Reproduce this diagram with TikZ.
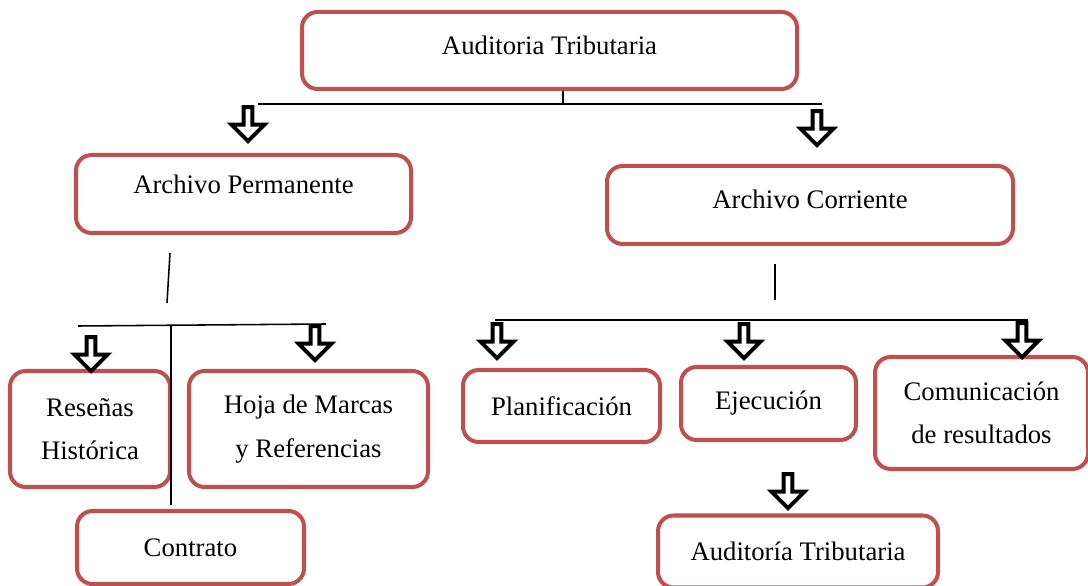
\documentclass[tikz,border=0pt]{standalone}
\usepackage{fontspec}
\setmainfont{Liberation Serif}
\usetikzlibrary{shapes.arrows, positioning}
\definecolor{rojo}{RGB}{192,80,77}
\newlength\pxu
\setlength\pxu{0.449pt}

\tikzset{
  caja/.style={draw=rojo, line width=1.8pt, rounded corners=7pt, fill=white,
    align=center, inner sep=0pt, font=\fontsize{12}{19.5}\selectfont},
  flecha/.style={single arrow, draw=black, line width=1.8pt, fill=white,
    shape border rotate=270, inner sep=1pt, minimum height=34\pxu,
    minimum width=33\pxu, single arrow head extend=12\pxu},
  linea/.style={line width=0.7pt}
}

\begin{document}
\begin{tikzpicture}[x=\pxu, y=-\pxu]
  \useasboundingbox (0,0) rectangle (1088,586);

  % cajas
  \node[caja, minimum width=495\pxu, minimum height=77\pxu, text depth=4.5pt] (aud) at (549.5,50.5) {Auditoria Tributaria};
  \node[caja, minimum width=335\pxu, minimum height=78\pxu, text depth=8.9pt] (perm) at (243.5,194) {Archivo Permanente};
  \node[caja, minimum width=406\pxu, minimum height=78\pxu, text depth=5.4pt] (corr) at (810,205) {Archivo Corriente};
  \node[caja, minimum width=160\pxu, minimum height=116\pxu] (res) at (90,429) {Reseñas\\Histórica};
  \node[caja, minimum width=239\pxu, minimum height=116\pxu] (hoja) at (308.5,429) {Hoja de Marcas\\y Referencias};
  \node[caja, minimum width=227\pxu, minimum height=73\pxu] (cont) at (190.5,547.5) {Contrato};
  \node[caja, minimum width=197\pxu, minimum height=72\pxu] (plan) at (561.5,406) {Planificación};
  \node[caja, minimum width=175\pxu, minimum height=73\pxu] (ejec) at (768.5,403.5) {Ejecución};
  \node[caja, minimum width=213\pxu, minimum height=112\pxu] (com) at (981.5,413) {Comunicación\\de resultados};
  \node[caja, minimum width=280\pxu, minimum height=72\pxu] (audt) at (798,551.5) {Auditoría Tributaria};

  % flechas
  \node[flecha] (f1) at (248,122) {};
  \node[flecha] (f2) at (817,126) {};
  \node[flecha] (f3) at (91,352) {};
  \node[flecha] (f4) at (315,341) {};
  \node[flecha] (f5) at (497,339) {};
  \node[flecha] (f6) at (744,339) {};
  \node[flecha] (f7) at (1022,338) {};
  \node[flecha] (f8) at (788,489) {};

  % lineas
  \coordinate (t1) at (563,104);
  \coordinate (hl) at (258,104);
  \coordinate (hr) at (822,104);
  \draw[linea] (aud.south -| t1) -- (t1);
  \draw[linea] (hl) -- (hr);

  \coordinate (p1) at (170,253);
  \coordinate (p2) at (167,303);
  \coordinate (pl) at (78,326);
  \coordinate (pr) at (326,324);
  \coordinate (pm) at (171,325);
  \coordinate (pb) at (171,505);
  \draw[linea] (p1) -- (p2);
  \draw[linea] (pl) -- (pr);
  \draw[linea] (pm) -- (pb);

  \coordinate (c1) at (775,264);
  \coordinate (c2) at (775,300);
  \coordinate (cl) at (495,320);
  \coordinate (cr) at (1028,320);
  \draw[linea] (c1) -- (c2);
  \draw[linea] (cl) -- (cr);
\end{tikzpicture}
\end{document}
